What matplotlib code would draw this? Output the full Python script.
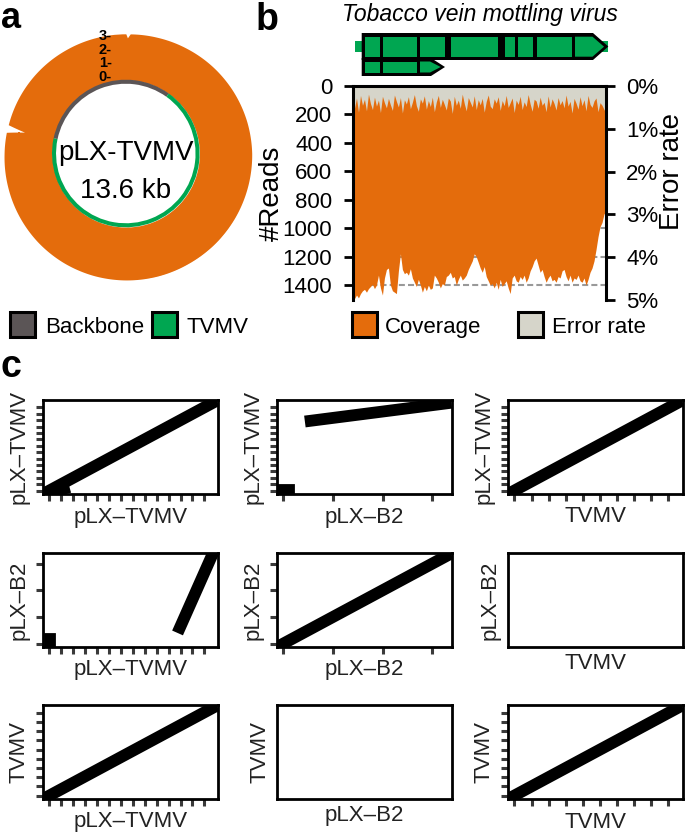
import numpy as np
import matplotlib
matplotlib.use('Agg')
import matplotlib.pyplot as plt
from matplotlib.patches import Rectangle, Polygon

plt.rcParams['font.family'] = ['Liberation Sans', 'DejaVu Sans']

# ---------------- data ----------------
# panel a: circular coverage of pLX-TVMV (log10 #reads)
plasmid_len = 13.6
ring_pos = [0.0, 0.03, 0.08, 0.57, 1.13, 1.7, 2.27, 2.83, 3.4, 3.97, 4.53, 5.1, 5.67, 6.23, 6.8,
            7.37, 7.93, 8.5, 9.07, 9.63, 10.2, 10.58, 10.65, 10.72, 11.33, 11.9, 12.47, 13.03, 13.6]
ring_cov = [3.2, 2.9, 3.2, 3.25, 3.33, 3.43, 3.52, 3.6, 3.66, 3.68, 3.7, 3.71, 3.7, 3.71, 3.7,
            3.68, 3.64, 3.58, 3.5, 3.42, 3.35, 3.32, 2.0, 3.3, 3.27, 3.24, 3.21, 3.2, 3.2]
ring_ticks = [0, 1, 2, 3]
backbone_kb = (10.65, 1.345)   # wraps through 0
tvmv_kb = (1.345, 10.65)

# panel b: TVMV coverage / error rate along genome
genome_len = 9471
coverage = [1480, 1495, 1470, 1490, 1460, 1440, 1430, 1450, 1425, 1410,
            1395, 1425, 1400, 1330, 1420, 1470, 1350, 1290, 1280, 1400,
            1440, 1450, 1460, 1300, 1180, 1290, 1320, 1310, 1330, 1285,
            1350, 1380, 1410, 1360, 1400, 1450, 1410, 1440, 1400, 1430,
            1420, 1330, 1350, 1380, 1420, 1390, 1400, 1340, 1330, 1310,
            1350, 1340, 1400, 1360, 1330, 1365, 1350, 1330, 1290, 1260,
            1230, 1180, 1200, 1240, 1280, 1310, 1270, 1340, 1370, 1400,
            1390, 1420, 1380, 1430, 1360, 1410, 1390, 1370, 1420, 1460,
            1350, 1330, 1370, 1380, 1340, 1360, 1330, 1380, 1350, 1300,
            1270, 1230, 1210, 1260, 1310, 1290, 1340, 1380, 1350, 1330,
            1370, 1360, 1380, 1340, 1350, 1300, 1290, 1340, 1370, 1330,
            1380, 1350, 1360, 1330, 1370, 1380, 1350, 1400, 1360, 1310,
            1280, 1230, 1150, 1060, 990, 960, 900, 880]
error_rate = [0.35, 0.52, 0.28, 0.61, 0.22, 0.45, 0.31, 0.58, 0.19, 0.41, 0.55, 0.26, 0.47, 0.33, 0.62, 0.24, 0.39, 0.51, 0.29, 0.44,
              0.57, 0.21, 0.36, 0.49, 0.27, 0.63, 0.32, 0.42, 0.25, 0.53, 0.38, 0.2, 0.46, 0.59, 0.3, 0.4, 0.23, 0.54, 0.34, 0.48,
              0.26, 0.6, 0.37, 0.22, 0.5, 0.31, 0.43, 0.56, 0.28, 0.35, 0.64, 0.24, 0.45, 0.33, 0.52, 0.19, 0.41, 0.58, 0.27, 0.38,
              0.49, 0.23, 0.55, 0.32, 0.44, 0.29, 0.61, 0.36, 0.21, 0.47, 0.53, 0.3, 0.4, 0.25, 0.57, 0.34, 0.46, 0.22, 0.5, 0.39,
              0.28, 0.62, 0.33, 0.43, 0.24, 0.55, 0.37, 0.48, 0.2, 0.42, 0.59, 0.31, 0.35, 0.52, 0.26, 0.45, 0.38, 0.6, 0.23, 0.49,
              0.3, 0.41, 0.56, 0.27, 0.44, 0.34, 0.51, 0.21, 0.47, 0.36, 0.63, 0.29, 0.4, 0.54, 0.25, 0.46, 0.32, 0.58, 0.22, 0.43,
              0.5, 0.35, 0.28, 0.6, 0.39, 0.45, 0.55, 0.62]
reads_ticks = [0, 200, 400, 600, 800, 1000, 1200, 1400]
err_ticks = [0, 1, 2, 3, 4, 5]

# TVMV genome map (nt)
genome_line = (93, 9560)
polyprotein = (344, 9557)
polyprotein_segs = [(467, 1027), (1151, 2398), (2522, 3456), (3680, 5447),
                    (5697, 6071), (6194, 6755), (6882, 8189), (8313, 9397)]
pipo = (344, 3456)
pipo_segs = [(467, 1027), (1151, 2398), (2522, 3296)]

# panel c: dot plots (kb)
seq_names = ['pLX-TVMV', 'pLX-B2', 'TVMV']
seq_len = [13.6, 3.27, 9.47]
dot_hits = {
    (0, 0): [((0, 13.6), (0, 13.6)), ((0.25, 1.2), (-0.2, 0.3))],
    (0, 1): [((0.55, 3.27), (10.9, 13.6)), ((0.0, 0.12), (0.1, 0.1))],
    (0, 2): [((0, 9.47), (0, 13.6))],
    (1, 0): [((10.95, 13.6), (0.6, 3.27)), ((0.05, 0.05), (-0.05, 0.18))],
    (1, 1): [((0, 3.27), (0, 3.27))],
    (2, 0): [((0, 13.6), (0, 9.47))],
    (2, 2): [((0, 9.47), (0, 9.47))],
}

ORANGE = '#e46c0c'
GREEN = '#00a651'
BACKBONE = '#5b5556'
ERRGREY = '#d6d5ca'

W, H = 685, 836
fig = plt.figure(figsize=(W / 100, H / 100), dpi=100)


def px_axes(x0, y0, x1, y1, **kw):
    return fig.add_axes([x0 / W, 1 - y1 / H, (x1 - x0) / W, (y1 - y0) / H], **kw)


# ---------------- panel a ----------------
cx, cy, R = 125.8, 153.5, 127.8
ax_a = px_axes(cx - R, cy - R, cx + R, cy + R, projection='polar')
ax_a.set_theta_zero_location('N')
ax_a.set_theta_direction(-1)
ax_a.set_ylim(-1, 3.8)
ax_a.set_rorigin(-5.667)
ax_a.set_axis_off()

theta = 2 * np.pi * np.array(ring_pos) / plasmid_len
ring = ax_a.fill_between(theta, -0.22, ring_cov, color=ORANGE, lw=0)
for p in ring.get_paths():
    p._interpolation_steps = 40   # draw edges as arcs in polar space


def arc(start_kb, end_kb, color):
    span = (end_kb - start_kb) % plasmid_len
    ax_a.bar(2 * np.pi * start_kb / plasmid_len, 0.3, width=2 * np.pi * span / plasmid_len,
             bottom=-0.5, align='edge', color=color, lw=0)


arc(*backbone_kb, BACKBONE)
arc(*tvmv_kb, GREEN)
for t in ring_ticks:
    ax_a.annotate(f'{t}-', xy=(0, t), xytext=(-10, 0), textcoords='offset points',
                  ha='right', va='center', fontsize=10.5, fontweight='bold')

# ---------------- panel b ----------------
pos_cov = np.linspace(0, genome_len, len(coverage))
pos_err = np.linspace(0, genome_len, len(error_rate))

ax_b = px_axes(352.5, 86, 606, 300)
ax_b.fill_between(pos_cov, 0, coverage, color=ORANGE, lw=0, zorder=1)
ax_b.set_xlim(0, genome_len)
ax_b.set_ylim(1505, 0)
ax_b.set_yticks(reads_ticks)
ax_b.set_axisbelow(True)
ax_b.yaxis.grid(True, color='#999999', lw=1.5, ls=(0, (2.9, 1.5)))
ax_b.set_xticks([])
for s in ax_b.spines.values():
    s.set_visible(False)
ax_b.tick_params(axis='y', labelsize=16, length=6.5, width=2, pad=8)
ax_b.text(-0.32, 0.5, '#Reads', transform=ax_b.transAxes, rotation=90,
          ha='center', va='center', fontsize=20)

ax_r = ax_b.twinx()
ax_r.fill_between(pos_err, 0, error_rate, color=ERRGREY, lw=0)
ax_r.set_ylim(5, 0)
ax_r.set_yticks(err_ticks)
ax_r.set_yticklabels([f'{t}%' for t in err_ticks])
ax_r.tick_params(axis='y', labelsize=16, length=6.5, width=2, pad=8)
ax_r.spines['bottom'].set_visible(False)
for s in ['top', 'left', 'right']:
    ax_r.spines[s].set_linewidth(2.2)
ax_r.text(1.262, 0.6, 'Error rate', transform=ax_r.transAxes, rotation=90,
          ha='center', va='center', fontsize=20)

# genome map above panel b
ax_g = px_axes(352.5, 26, 606, 80)
ax_g.set_xlim(0, genome_len)
ax_g.set_ylim(80, 26)
ax_g.axis('off')
ax_g.add_patch(Rectangle((genome_line[0], 41), genome_line[1] - genome_line[0], 10.5,
                         color=GREEN, lw=0, clip_on=False))


def gene_row(span, y0, y1, head):
    ym = (y0 + y1) / 2
    s, e = span
    ax_g.add_patch(Polygon([(s, y0), (e - head, y0), (e, ym), (e - head, y1), (s, y1)],
                           closed=True, color='black', lw=0, clip_on=False))


def gene_segs(segs, y0, y1, head):
    ym = (y0 + y1) / 2
    for i, (a, b) in enumerate(segs):
        if i == len(segs) - 1:
            ax_g.add_patch(Polygon([(a, y0), (b - head, y0), (b, ym), (b - head, y1), (a, y1)],
                                   closed=True, color=GREEN, lw=0, clip_on=False))
        else:
            ax_g.add_patch(Rectangle((a, y0), b - a, y1 - y0, color=GREEN, lw=0, clip_on=False))


gene_row(pipo, 58, 76, 523)
gene_row(polyprotein, 33, 60, 572)
gene_segs(pipo_segs, 61.5, 72.5, 400)
gene_segs(polyprotein_segs, 36.7, 56.7, 430)

# ---------------- panel c ----------------
c_cols = [(43, 218), (277, 452), (508, 683)]
c_rows = [(400, 494), (553, 647), (705, 799)]
for r in range(3):
    for c in range(3):
        ax = px_axes(c_cols[c][0], c_rows[r][0], c_cols[c][1], c_rows[r][1])
        lx, ly = seq_len[c], seq_len[r]
        ax.set_xlim(-0.04 * lx, 1.04 * lx)
        ax.set_ylim(-0.04 * ly, 1.04 * ly)
        hits = dot_hits.get((r, c), [])
        for xs, ys in hits:
            ax.plot(xs, ys, color='black', lw=8.5, solid_capstyle='projecting')
        if hits:
            ax.set_xticks(np.arange(0, int(lx) + 1))
            ax.set_yticks(np.arange(0, int(ly) + 1))
        else:
            ax.set_xticks([])
            ax.set_yticks([])
        ax.tick_params(length=5, width=2.2, color='#3a3a3a', labelbottom=False, labelleft=False)
        for s in ax.spines.values():
            s.set_linewidth(2)
        ax.set_xlabel(seq_names[c].replace('-', '\u2013'), fontsize=16, color='#222222', labelpad=4)
        ax.set_ylabel(seq_names[r].replace('-', '\u2013'), fontsize=16, color='#222222', labelpad=5)

# ---------------- overlay: letters, legends, texts ----------------
ov = fig.add_axes([0, 0, 1, 1])
ov.set_xlim(0, W)
ov.set_ylim(H, 0)
ov.axis('off')
ov.patch.set_alpha(0)

ov.text(1, 28, 'a', fontsize=26, fontweight='bold', va='baseline')
ov.text(256, 30, 'b', fontsize=27, fontweight='bold', va='baseline')
ov.text(0, 377, 'c', fontsize=27, fontweight='bold', va='baseline')

ov.text(126, 160, 'pLX-TVMV', fontsize=20, ha='center', va='baseline')
ov.text(126, 198, '13.6 kb', fontsize=20, ha='center', va='baseline')
ov.text(480, 21.5, 'Tobacco vein mottling virus', fontsize=16.5, style='italic',
        ha='center', va='baseline')

legend_items = [(10, BACKBONE, 'Backbone', 45), (151.7, GREEN, 'TVMV', 186.7),
                (351.7, ORANGE, 'Coverage', 385), (518, ERRGREY, 'Error rate', 551.7)]
for x0, col, lab, tx in legend_items:
    ov.add_patch(Rectangle((x0, 311.7), 25, 25, facecolor=col, edgecolor='black', lw=2.2))
    ov.text(tx, 333.3, lab, fontsize=16, va='baseline')

fig.savefig('out.png', dpi=100)
